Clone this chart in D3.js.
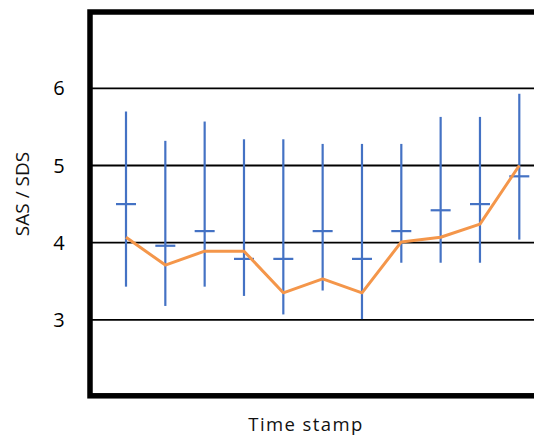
<!DOCTYPE html>
<html><head><meta charset="utf-8">
<script src="https://cdn.jsdelivr.net/npm/d3@7"></script>
<style>html,body{margin:0;padding:0;background:#fff;}svg{display:block;}</style>
</head><body>
<svg id="c" width="534" height="436"></svg>
<script>
const timeStamps = [1,2,3,4,5,6,7,8,9,10,11];
const errHigh = [5.70,5.32,5.57,5.34,5.34,5.28,5.28,5.28,5.63,5.63,5.93];
const errLow  = [3.43,3.18,3.43,3.31,3.07,3.38,3.01,3.74,3.74,3.74,4.04];
const meanVals = [4.50,3.96,4.15,3.79,3.79,4.15,3.79,4.15,4.42,4.50,4.86];
const lineVals = [4.07,3.71,3.89,3.89,3.35,3.53,3.35,4.01,4.07,4.24,5.00];
const yTicks = [3,4,5,6];

const svg = d3.select("#c");
const x = d3.scaleLinear().domain([1,11]).range([126,519.3]);
const y = d3.scaleLinear().domain([2,7]).range([397,11.2]);
const font = "'Open Sans', sans-serif";

// gridlines
svg.append("g").selectAll("line").data(yTicks).join("line")
  .attr("x1",90).attr("x2",534).attr("y1",d=>y(d)).attr("y2",d=>y(d))
  .attr("stroke","#000").attr("stroke-width",1.8);

// tick labels
svg.append("g").selectAll("text").data(yTicks).join("text")
  .attr("x",59).attr("y",d=>y(d)).attr("dy","0.35em")
  .attr("text-anchor","middle").attr("font-family",font).attr("font-size",20)
  .attr("fill","#000").text(d=>d);

// error bars
const eb = svg.append("g").attr("stroke","#4472C4").attr("stroke-width",2.2);
eb.selectAll("line.v").data(timeStamps).join("line").attr("class","v")
  .attr("x1",(d)=>x(d)).attr("x2",(d)=>x(d))
  .attr("y1",(d,i)=>y(errHigh[i])).attr("y2",(d,i)=>y(errLow[i]));
eb.selectAll("line.m").data(timeStamps).join("line").attr("class","m")
  .attr("x1",(d)=>x(d)-10).attr("x2",(d)=>x(d)+10)
  .attr("y1",(d,i)=>y(meanVals[i])).attr("y2",(d,i)=>y(meanVals[i]));

// orange line
svg.append("path").datum(timeStamps)
  .attr("fill","none").attr("stroke","#F4964A").attr("stroke-width",3)
  .attr("stroke-linejoin","round")
  .attr("d", d3.line().x(d=>x(d)).y((d,i)=>y(lineVals[i])));

// frame
svg.append("rect").attr("x",90).attr("y",y(7)+0.8).attr("width",480).attr("height",y(2)-y(7)-2)
  .attr("fill","none").attr("stroke","#000").attr("stroke-width",5.5);

// axis titles
svg.append("text").attr("x",306).attr("y",430.5).attr("text-anchor","middle")
  .attr("font-family",font).attr("font-size",18.5).attr("letter-spacing",1.4)
  .attr("fill","#111").text("Time stamp");
svg.append("text").attr("transform","translate(29,194) rotate(-90)")
  .attr("text-anchor","middle").attr("font-family",font).attr("font-size",19)
  .attr("fill","#111").text("SAS / SDS");
</script>
</body></html>
